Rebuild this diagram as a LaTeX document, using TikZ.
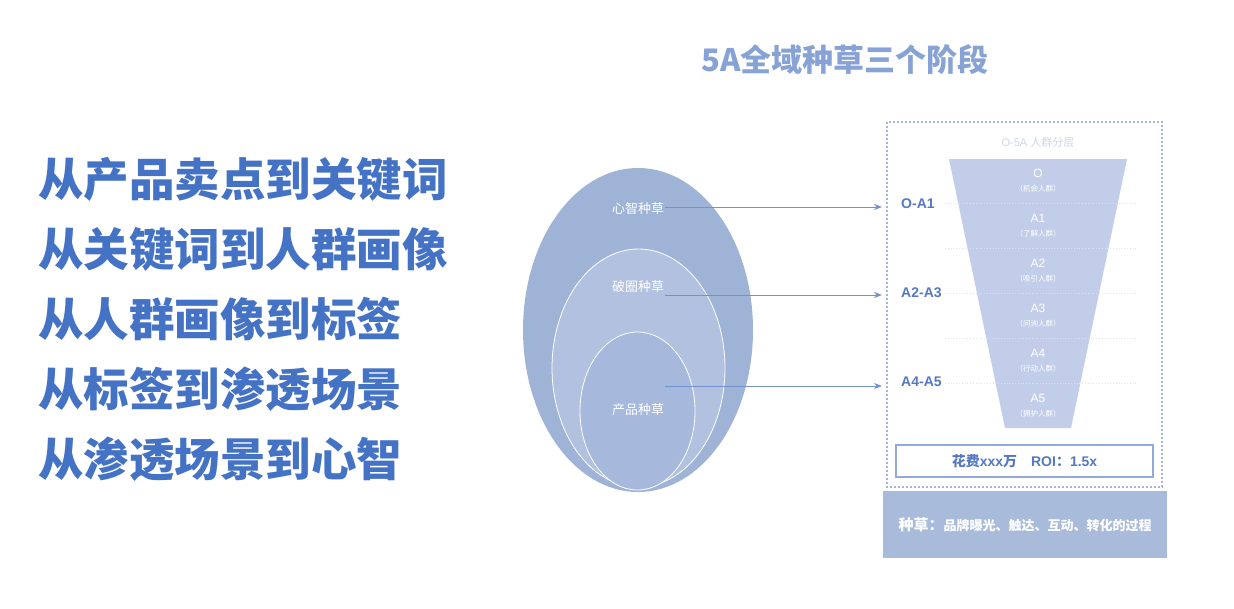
\documentclass[tikz,border=0pt]{standalone}
\usepackage{fontspec}
\newfontfamily\cjk{Noto Sans CJK SC}
\setmainfont{Liberation Sans}
\usetikzlibrary{arrows.meta}
\definecolor{headblue}{HTML}{4472C4}
\definecolor{titleblue}{HTML}{87A3D6}
\definecolor{outerell}{HTML}{9FB3D7}
\definecolor{midell}{HTML}{B2C1E0}
\definecolor{innerell}{HTML}{A6B8DB}
\definecolor{funnelc}{HTML}{C2CEE9}
\definecolor{bandc}{HTML}{A9BBDB}
\definecolor{boxline}{HTML}{A3B6DD}
\definecolor{lablue}{HTML}{5578C2}
\definecolor{arrowc}{HTML}{7393D0}
\definecolor{sepc}{HTML}{DCE3F2}
\tikzset{
  headline/.style={anchor=west, text=headblue, font=\cjk\bfseries\fontsize{45.5}{45.5}\selectfont, inner sep=0pt},
  titletext/.style={text=titleblue, font=\cjk\bfseries\fontsize{31}{31}\selectfont},
  elab/.style={text=white, font=\cjk\fontsize{13}{13}\selectfont},
  connector/.style={draw=arrowc, line width=0.9pt, -{Stealth[length=8pt,width=6pt]}},
  stage/.style={anchor=west, text=lablue, font=\bfseries\fontsize{14}{14}\selectfont, inner sep=0pt},
  layer/.style={text=white, font=\fontsize{12}{12}\selectfont, inner sep=0pt},
  sublayer/.style={text=white, font=\cjk\fontsize{7.5}{7.5}\selectfont, inner sep=0pt},
  sep/.style={draw=sepc, line width=0.8pt, dotted},
}
\begin{document}
\begin{tikzpicture}[x=1pt,y=-1pt]
\useasboundingbox[fill=white] (0,0) rectangle (1234,608);

% left headlines
\node[headline] (h1) at (38,179) {从产品卖点到关键词};
\node[headline] (h2) at (38,249) {从关键词到人群画像};
\node[headline] (h3) at (38,319) {从人群画像到标签};
\node[headline] (h4) at (38,389) {从标签到渗透场景};
\node[headline] (h5) at (38,459) {从渗透场景到心智};

% title
\node[titletext] (title) at (845,60) {5A全域种草三个阶段};

% ellipses
\fill[outerell] (638,330) ellipse [x radius=115pt, y radius=162pt];
\draw[white, line width=0.8pt, fill=midell] (638.5,368) ellipse [x radius=86.5pt, y radius=119pt];
\draw[white, line width=0.8pt, fill=innerell] (637.5,411) ellipse [x radius=57.5pt, y radius=79pt];

\node[elab] (l1) at (638,209) {心智种草};
\node[elab] (l2) at (638,287) {破圈种草};
\node[elab] (l3) at (638,410) {产品种草};

% dashed frame
\draw[boxline, line width=1.2pt, dash pattern=on 2pt off 2pt] (887,122) rectangle (1162,487);
\node[text=sepc!80!titleblue, font=\fontsize{11}{11}\selectfont] (osa) at (1038,142) {O-5A {\cjk 人群分层}};

% funnel
\fill[funnelc] (949,159) -- (1127,159) -- (1071,428) -- (1005,428) -- cycle;
\foreach \y in {203,248,293,338,383} {
  \draw[sep] (945,\y) -- (1137,\y);
}
\foreach \t/\s/\y in {O/机会人群/159, A1/了解人群/204, A2/吸引人群/249, A3/问询人群/294, A4/行动人群/339, A5/拥护人群/384} {
  \node[layer] at (1038,\y+14) {\t};
  \node[sublayer] at (1038,\y+30) {（\s）};
}

% stage labels
\node[stage] (s1) at (901,204) {O-A1};
\node[stage] (s2) at (901,293) {A2-A3};
\node[stage] (s3) at (901,382) {A4-A5};

% connectors
\coordinate (a1) at (665,207);
\coordinate (a2) at (665,295);
\coordinate (a3) at (665,386);
\coordinate (b1) at (882,207);
\coordinate (b2) at (882,295);
\coordinate (b3) at (882,386);
\draw[connector] (a1) -- (b1);
\draw[connector] (a2) -- (b2);
\draw[connector] (a3) -- (b3);

% cost box
\node[draw=boxline!80!lablue, line width=1.5pt, minimum width=257pt, minimum height=32pt, inner sep=0pt,
      text=lablue, font=\bfseries\fontsize{14}{14}\selectfont] (cost) at (1024.5,461) {{\cjk 花费}xxx{\cjk 万}\quad ROI{\cjk ：}1.5x};

% bottom band
\node[fill=bandc, minimum width=284pt, minimum height=67pt, inner sep=0pt, text=white,
      font=\cjk\bfseries\fontsize{13}{13}\selectfont] (band) at (1025,524.5) {{\fontsize{15}{15}\selectfont 种草：}品牌曝光、触达、互动、转化的过程};
\end{tikzpicture}
\end{document}
